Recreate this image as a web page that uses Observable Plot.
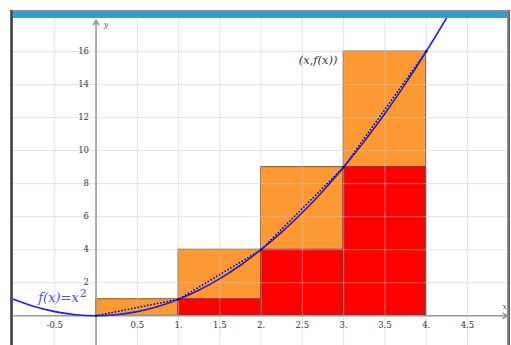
<!DOCTYPE html>
<html>
<head>
<meta charset="utf-8">
<script src="https://cdn.jsdelivr.net/npm/d3@7"></script>
<script src="https://cdn.jsdelivr.net/npm/@observablehq/plot@0.6"></script>
<style>
  html, body { margin: 0; padding: 0; background: #fff; }
  #wrap { position: relative; width: 511px; height: 345px; overflow: hidden; }
  #wrap svg { position: absolute; left: 0; top: 0; }
  .deco { position: absolute; }
</style>
</head>
<body>
<div id="wrap">
  <div class="deco" style="left:10px;top:10px;width:500px;height:2px;background:#8a8a8a"></div>
  <div class="deco" style="left:10px;top:12px;width:497px;height:5.5px;background:#2f9fcf"></div>
  <div class="deco" style="left:10px;top:10px;width:3px;height:335px;background:linear-gradient(to right,#777,#444,#666)"></div>
  <div class="deco" style="left:507px;top:10px;width:2.5px;height:335px;background:linear-gradient(to right,#999,#555)"></div>
</div>
<script>
// Riemann sums for f(x) = x^2 on [0,4], 4 subintervals
const intervalStart = [0, 1, 2, 3];
const intervalEnd   = [1, 2, 3, 4];
const upperHeights  = [1, 4, 9, 16];   // orange (right endpoint)
const lowerHeights  = [0, 1, 4, 9];    // red (left endpoint)

// points read on the blue curve f(x)=x^2
const curveX = [-1, -0.75, -0.5, -0.25, 0, 0.25, 0.5, 0.75, 1, 1.25, 1.5, 1.75, 2, 2.25, 2.5, 2.75, 3, 3.25, 3.5, 3.75, 4, 4.25, 4.5];
const curveY = [1, 0.56, 0.25, 0.06, 0, 0.06, 0.25, 0.56, 1, 1.56, 2.25, 3.06, 4, 5.06, 6.25, 7.56, 9, 10.56, 12.25, 14.06, 16, 18.06, 20.25];

// dotted polyline through (x, f(x))
const polyX = [0, 1, 2, 3, 4];
const polyY = [0, 1, 4, 9, 16];

// axes ticks
const xTicks = [-0.5, 0.5, 1, 1.5, 2, 2.5, 3, 3.5, 4, 4.5];
const xTickLabels = ["-0.5", "0.5", "1.", "1.5", "2.", "2.5", "3.", "3.5", "4.", "4.5"];
const yTicks = [2, 4, 6, 8, 10, 12, 14, 16];
const yTickLabels = ["2", "4", "6", "8", "10", "12", "14", "16"];

const upperRects = intervalStart.map((a, i) => ({x1: a, x2: intervalEnd[i], y1: 0, y2: upperHeights[i]}));
const lowerRects = intervalStart.map((a, i) => ({x1: a, x2: intervalEnd[i], y1: 0, y2: lowerHeights[i]})).filter(d => d.y2 > 0);
const curve = curveX.map((x, i) => ({x, y: curveY[i]}));
const poly = polyX.map((x, i) => ({x, y: polyY[i]}));
const xt = xTicks.map((v, i) => ({v, label: xTickLabels[i]}));
const yt = yTicks.map((v, i) => ({v, label: yTickLabels[i]}));

const xMin = -1.0, xMax = 4.985, yMin = -1.8, yMax = 18.0;
const serif = "DejaVu Serif";

const chart = Plot.plot({
  width: 511,
  height: 345,
  marginTop: 18,
  marginLeft: 13,
  marginRight: 4,
  marginBottom: 0,
  x: {domain: [xMin, xMax], axis: null},
  y: {domain: [yMin, yMax], axis: null},
  style: {background: "transparent"},
  marks: [
    Plot.rect(upperRects, {x1: "x1", x2: "x2", y1: "y1", y2: "y2", fill: "#fd9933", stroke: "#555", strokeWidth: 0.9}),
    Plot.rect(lowerRects, {x1: "x1", x2: "x2", y1: "y1", y2: "y2", fill: "#ff0000", stroke: "#444", strokeWidth: 0.9}),
    // grid
    Plot.ruleX(xTicks, {stroke: "#c8c8c8", strokeOpacity: 0.5, strokeWidth: 1}),
    Plot.ruleY(yTicks, {stroke: "#c8c8c8", strokeOpacity: 0.5, strokeWidth: 1}),
    // axes
    Plot.arrow([{x1: xMin, y1: 0, x2: xMax, y2: 0}], {x1: "x1", y1: "y1", x2: "x2", y2: "y2", stroke: "#9a9a9a", strokeWidth: 1.6, headLength: 5, bend: 0}),
    Plot.arrow([{x1: 0, y1: yMin, x2: 0, y2: yMax - 0.1}], {x1: "x1", y1: "y1", x2: "x2", y2: "y2", stroke: "#9a9a9a", strokeWidth: 1.6, headLength: 5, bend: 0}),
    // dotted polyline
    Plot.line(poly, {x: "x", y: "y", stroke: "#111", strokeWidth: 1.7, strokeDasharray: "0.1,3.2", strokeLinecap: "round"}),
    // blue curve
    Plot.line(curve, {x: "x", y: "y", stroke: "#1a1aff", strokeWidth: 1.6, curve: "natural", clip: true}),
    Plot.dot(poly, {x: "x", y: "y", r: 1.3, fill: "#111"}),
    // tick labels
    Plot.text(xt, {x: "v", y: 0, text: "label", dy: 9, fontSize: 8.5, fontFamily: serif, fill: "#333"}),
    Plot.text(yt, {x: 0, y: "v", text: "label", dx: -7, textAnchor: "end", fontSize: 8.5, fontFamily: serif, fill: "#333"}),
    Plot.text(["y"], {x: 0, y: yMax, text: d => d, dx: 10, dy: 6, fontSize: 7.5, fontFamily: serif, fontStyle: "italic", fill: "#444"}),
    Plot.text(["x"], {x: xMax, y: 0, text: d => d, dx: -3, dy: -9, fontSize: 7.5, fontFamily: serif, fontStyle: "italic", fill: "#444"}),
    // labels
    Plot.text(["f(x)=x"], {x: -0.7, y: 0.85, text: d => d, textAnchor: "start", lineAnchor: "bottom", fontSize: 13, fontFamily: serif, fontStyle: "italic", fill: "#4b4bff", className: "flabel"}),
    Plot.text(["(x,f(x))"], {x: 2.69, y: 15.45, text: d => d, textAnchor: "middle", fontSize: 11.5, fontFamily: serif, fontStyle: "italic", fill: "#333"})
  ]
});

document.getElementById("wrap").appendChild(chart);

// superscript 2 on the function label
d3.select(chart).selectAll("g.flabel text").each(function() {
  const t = d3.select(this);
  t.append("tspan").attr("dy", "-0.45em").attr("dx", "1").style("font-style", "normal").attr("font-size", 11).text("2");
});
</script>
</body>
</html>
